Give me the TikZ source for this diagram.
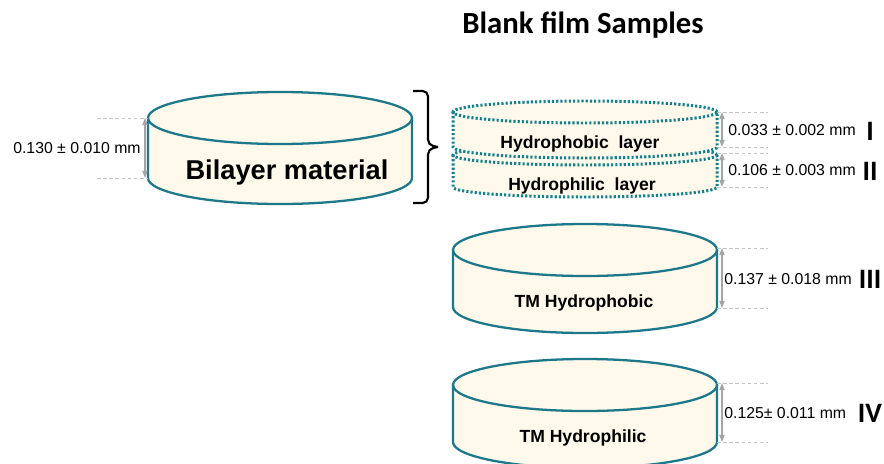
\documentclass[tikz,border=0pt]{standalone}
\usepackage{fontspec}
\setmainfont{Liberation Sans}
\newfontfamily\calibri{Carlito}
\usetikzlibrary{arrows.meta}
\definecolor{disk-line}{RGB}{28,120,138}
\definecolor{layer-line}{RGB}{15,128,142}
\definecolor{disk-fill}{RGB}{254,249,234}
\definecolor{ext-gray}{RGB}{195,195,195}
\definecolor{dim-gray}{RGB}{165,165,165}

\tikzset{
  solidrim/.style={draw=disk-line, line width=1.3pt},
  dottedrim/.style={draw=layer-line, line width=1.7pt, dash pattern=on 1.2pt off 1.2pt},
  extline/.style={draw=ext-gray, line width=0.5pt, dash pattern=on 2pt off 1.5pt},
  dimarrow/.style={draw=dim-gray, line width=0.6pt, {Triangle[length=4pt,width=3pt]}-{Triangle[length=4pt,width=3pt]}},
  dimtext/.style={font=\fontsize{9}{11}\selectfont, inner sep=0pt},
  numeral/.style={font=\calibri\bfseries\fontsize{16}{18}\selectfont, inner sep=0pt, anchor=base},
  disklabel/.style={font=\bfseries\fontsize{10}{12}\selectfont, inner sep=0pt, anchor=base},
}

% #1 rim style, #2 centre x, #3 top y, #4 bottom y, #5 y radius
\newcommand{\filmdisk}[5]{%
  \fill[disk-fill] (#2-132,#3) -- (#2-132,#4) arc[start angle=180,end angle=360,x radius=132,y radius=#5]
    -- (#2+132,#3) arc[start angle=0,end angle=180,x radius=132,y radius=#5] -- cycle;
  \draw[#1] (#2-132,#3) -- (#2-132,#4) arc[start angle=180,end angle=360,x radius=132,y radius=#5] -- (#2+132,#3);
  \draw[#1] (#2,#3) ellipse[x radius=132,y radius=#5];
}

\begin{document}
\begin{tikzpicture}[x=0.02cm,y=0.02cm]
    \useasboundingbox (0,0) rectangle (884,-463);

    \node[font=\calibri\bfseries\fontsize{17.5}{20}\selectfont, inner sep=0pt, anchor=base] (title) at (583,-33) {Blank film Samples};

    % disks
    \filmdisk{solidrim}{280}{-118}{-178}{26}
    \filmdisk{dottedrim}{585}{-155}{-187}{10}
    \filmdisk{dottedrim}{585}{-112}{-147}{11}
    \filmdisk{solidrim}{585}{-250}{-307}{26}
    \filmdisk{solidrim}{585}{-385}{-442}{26}

    \node[font=\bfseries\fontsize{15.5}{18}\selectfont, inner sep=0pt, anchor=base] (bilayer-label) at (287,-179) {Bilayer material};
    \node[disklabel] (phobic-label) at (580,-148) {Hydrophobic\ \ layer};
    \node[disklabel] (philic-label) at (582,-190) {Hydrophilic\ \ layer};
    \node[disklabel] (tm-phobic-label) at (584,-307) {TM Hydrophobic};
    \node[disklabel] (tm-philic-label) at (583,-442) {TM Hydrophilic};

    % brace
    \coordinate (brace-top) at (413,-91);
    \coordinate (brace-tip) at (438,-147);
    \coordinate (brace-bot) at (413,-203);
    \draw[line width=1.2pt, rounded corners=3] (brace-top) -- (428,-91) -- (428,-145) -- (brace-tip);
    \draw[line width=1.2pt, rounded corners=3] (brace-bot) -- (428,-203) -- (428,-149) -- (brace-tip);

    % thickness of the bilayer
    \coordinate (bilayer-top) at (145,-118);
    \coordinate (bilayer-bot) at (145,-178);
    \draw[extline] (bilayer-top) ++(-48,0) -- ++(51,0);
    \draw[extline] (bilayer-bot) ++(-48,0) -- ++(51,0);
    \draw[dimarrow] (bilayer-top) -- (bilayer-bot);
    \node[dimtext, anchor=base east] (dim-bilayer) at (141,-153) {0.130 ± 0.010 mm};

    % thickness of samples I to IV
    \coordinate (i-top) at (722,-112);
    \coordinate (i-bot) at (722,-147);
    \coordinate (ii-top) at (722,-153);
    \coordinate (ii-bot) at (722,-187);
    \coordinate (iii-top) at (722,-248);
    \coordinate (iii-bot) at (722,-308);
    \coordinate (iv-top) at (722,-383);
    \coordinate (iv-bot) at (722,-442);
    \foreach \s in {i,ii,iii,iv} {
      \draw[extline] (\s-top) ++(-5,0) -- ++(51,0);
      \draw[extline] (\s-bot) ++(-5,0) -- ++(51,0);
      \draw[dimarrow] (\s-top) -- (\s-bot);
    }
    \node[dimtext, anchor=base west] (dim-i) at (728,-135) {0.033 ± 0.002 mm};
    \node[dimtext, anchor=base west] (dim-ii) at (728,-175) {0.106 ± 0.003 mm};
    \node[dimtext, anchor=base west] (dim-iii) at (724,-284) {0.137 ± 0.018 mm};
    \node[dimtext, anchor=base west] (dim-iv) at (724,-418) {0.125± 0.011 mm};

    \node[numeral] (num-i) at (870,-140) {I};
    \node[numeral] (num-ii) at (870,-180) {II};
    \node[numeral] (num-iii) at (870,-288) {III};
    \node[numeral] (num-iv) at (870,-422) {IV};
\end{tikzpicture}
\end{document}
